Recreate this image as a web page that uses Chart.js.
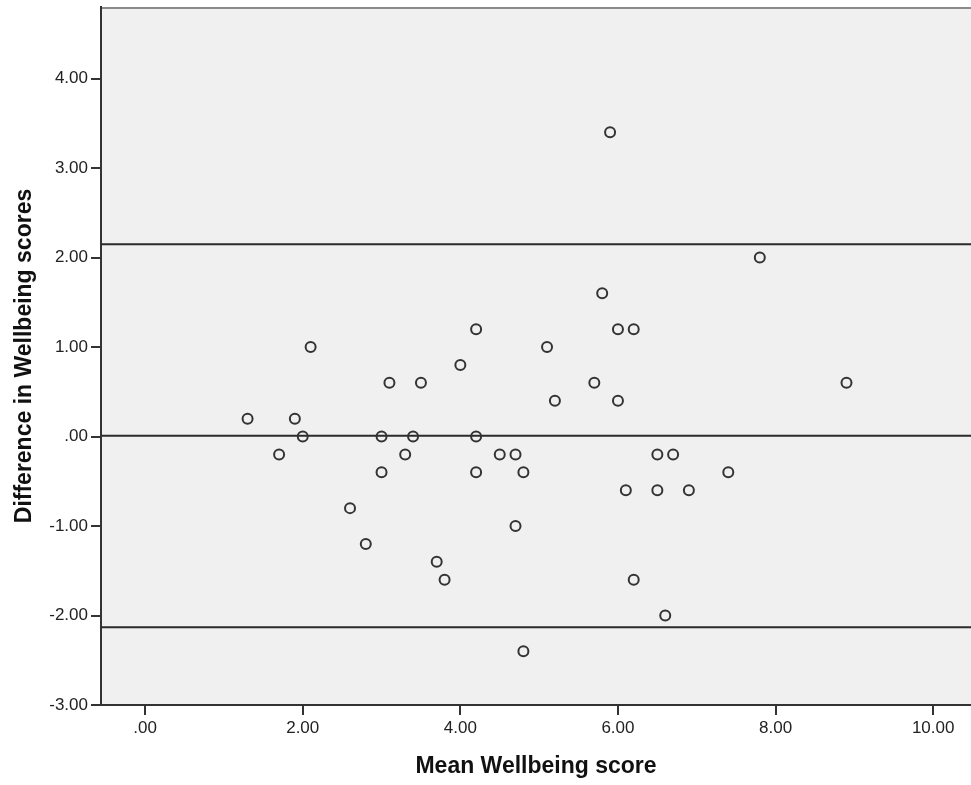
<!DOCTYPE html>
<html>
<head>
<meta charset="utf-8">
<script src="https://cdn.jsdelivr.net/npm/chart.js@4"></script>
<style>
  body { margin: 0; background: #fff; }
  #wrap { width: 971px; height: 785px; position: relative; }
</style>
</head>
<body>
<div id="wrap"><canvas id="myChart"></canvas></div>
<script>
// DATA
const meanScore = [1.3, 1.7, 1.9, 2.0, 2.1, 2.6, 2.8, 3.0, 3.0, 3.1, 3.3, 3.4, 3.5, 3.7, 3.8, 4.0, 4.2, 4.2, 4.2, 4.5, 4.7,
  4.7, 4.8, 4.8, 5.1, 5.2, 5.7, 5.8, 5.9, 6.0, 6.0, 6.1, 6.2, 6.2, 6.5, 6.5, 6.6, 6.7, 6.9, 7.4, 7.8, 8.9];
const diffScore = [0.2, -0.2, 0.2, 0.0, 1.0, -0.8, -1.2, 0.0, -0.4, 0.6, -0.2, 0.0, 0.6, -1.4, -1.6, 0.8, 1.2, 0.0, -0.4, -0.2, -0.2,
  -1.0, -0.4, -2.4, 1.0, 0.4, 0.6, 1.6, 3.4, 1.2, 0.4, -0.6, 1.2, -1.6, -0.2, -0.6, -2.0, -0.2, -0.6, -0.4, 2.0, 0.6];
const refLines = [2.15, 0.01, -2.13]; // upper limit, mean difference, lower limit
const xTicks = [0, 2, 4, 6, 8, 10];
const yTicks = [-3, -2, -1, 0, 1, 2, 3, 4];
const xMin = -0.56, xMax = 10.48;
const yMin = -3, yMax = 4.8;

const points = meanScore.map((m, i) => ({ x: m, y: diffScore[i] }));

// the three horizontal lines
const lineSets = refLines.map(v => ({
  type: 'line',
  data: [{ x: xMin, y: v }, { x: xMax, y: v }],
  borderColor: '#2b2b2b',
  borderWidth: 2,
  pointRadius: 0,
  fill: false
}));

function fmt(v) {
  if (v === 0) return '.00';
  return v.toFixed(2);
}

// grey plot background + top border
const plotBg = {
  id: 'plotBg',
  beforeDraw(chart) {
    const { ctx, chartArea: a } = chart;
    ctx.save();
    ctx.fillStyle = '#f0f0f0';
    ctx.fillRect(a.left, a.top, a.right - a.left, a.bottom - a.top);
    ctx.strokeStyle = '#8a8a8a';
    ctx.lineWidth = 2;
    ctx.beginPath();
    ctx.moveTo(a.left, a.top + 1);
    ctx.lineTo(a.right, a.top + 1);
    ctx.stroke();
    ctx.restore();
  }
};

const ctx = document.getElementById('myChart');

new Chart(ctx, {
  type: 'scatter',
  data: {
    datasets: [{
      data: points,
      pointStyle: 'circle',
      pointRadius: 5,
      pointHoverRadius: 5,
      borderColor: '#333',
      borderWidth: 2,
      backgroundColor: 'rgba(0,0,0,0)'
    }, ...lineSets]
  },
  options: {
    responsive: true,
    maintainAspectRatio: false,
    animation: false,
    layout: { autoPadding: false, padding: { top: 7, right: 0, left: 0, bottom: 0 } },
    plugins: {
      legend: { display: false },
      tooltip: { enabled: false }
    },
    scales: {
      x: {
        type: 'linear',
        min: xMin,
        max: xMax,
        afterBuildTicks: s => { s.ticks = xTicks.map(v => ({ value: v })); },
        afterFit: s => { s.height = 80; s.paddingLeft = 0; s.paddingRight = 0; },
        ticks: {
          callback: v => fmt(v),
          color: '#222',
          padding: 3,
          font: { family: 'Liberation Sans, Arial', size: 17 }
        },
        grid: { drawOnChartArea: false, drawTicks: true, tickLength: 10, color: '#333', lineWidth: 2 },
        border: { display: true, color: '#333', width: 2 },
        title: {
          display: true,
          text: 'Mean Wellbeing score',
          color: '#111',
          font: { family: 'Liberation Sans, Arial', size: 23, weight: 'bold' },
          padding: { top: 0, bottom: 5 }
        }
      },
      y: {
        type: 'linear',
        min: yMin,
        max: yMax,
        afterBuildTicks: s => { s.ticks = yTicks.map(v => ({ value: v })); },
        afterFit: s => { s.width = 101; s.paddingTop = 0; s.paddingBottom = 0; },
        ticks: {
          callback: v => fmt(v),
          color: '#222',
          padding: 3,
          font: { family: 'Liberation Sans, Arial', size: 17 }
        },
        grid: { drawOnChartArea: false, drawTicks: true, tickLength: 10, color: '#333', lineWidth: 2 },
        border: { display: true, color: '#333', width: 2 },
        title: {
          display: true,
          text: 'Difference in Wellbeing scores',
          color: '#111',
          font: { family: 'Liberation Sans, Arial', size: 23, weight: 'bold' },
          padding: { top: 11, bottom: 0 }
        }
      }
    }
  },
  plugins: [plotBg]
});
</script>
</body>
</html>
